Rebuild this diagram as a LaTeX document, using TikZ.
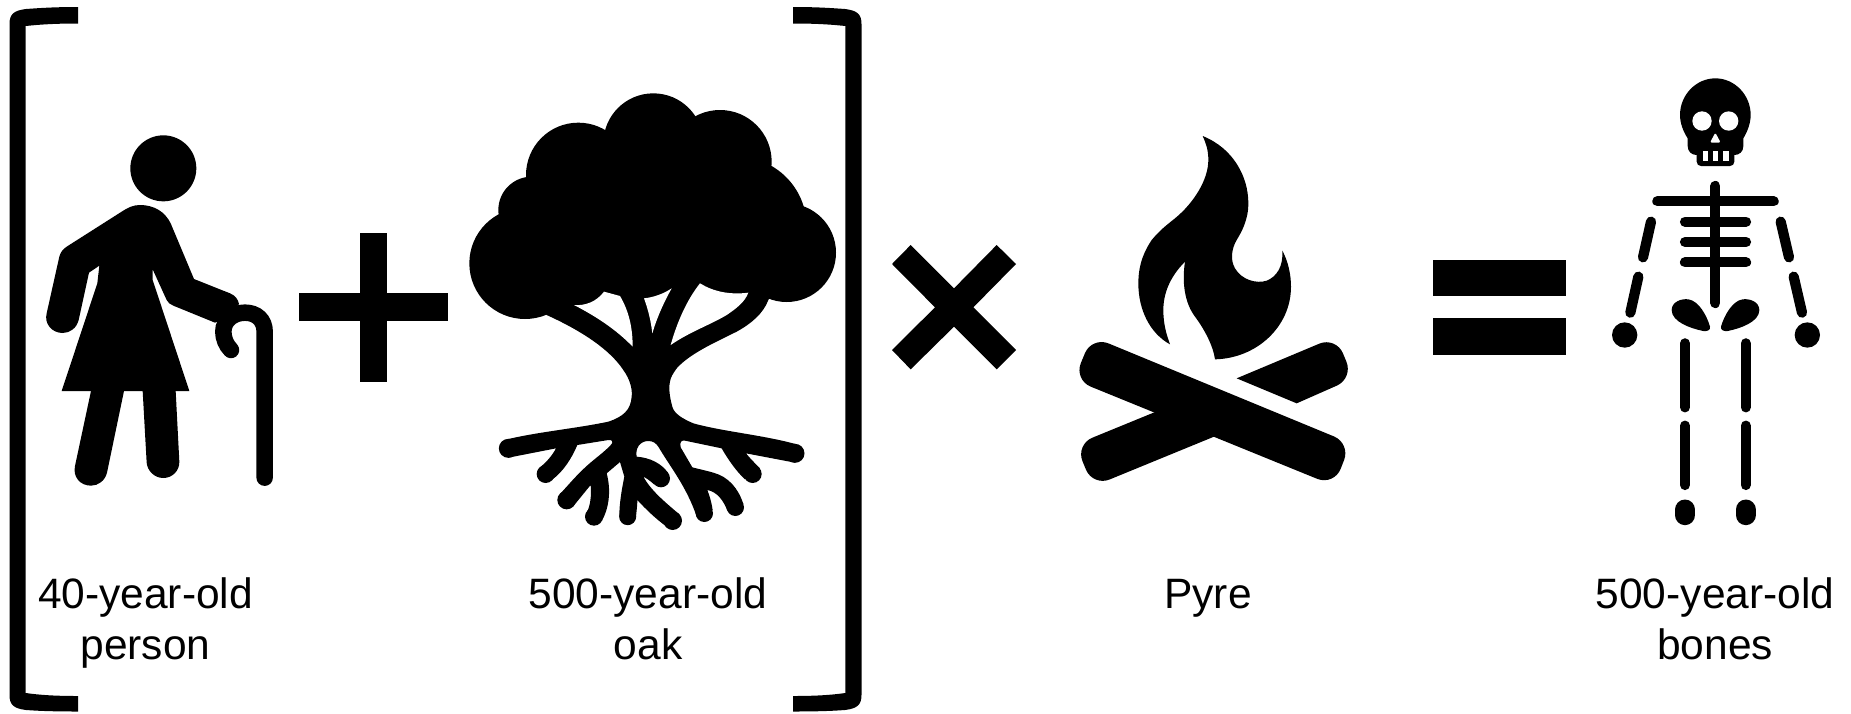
\documentclass[tikz,border=0pt]{standalone}
\usepackage{fontspec}
\setmainfont{Liberation Sans}
\tikzset{
  zm/.style 2 args={shift={(#1,#2)},x=0.33333pt,y=-0.33333pt},
  ink/.style={fill=black,draw=none},
  gap/.style={fill=white,draw=none},
  bone/.style={draw=black,line width=10.2pt,line cap=round},
  cane/.style={draw=black,line width=16.5pt,line cap=round},
  logend/.style={rounded corners=18pt},
  lbl/.style={font=\fontsize{42.5}{51}\selectfont,align=center,anchor=base,inner sep=0pt,text=black}
}
\begin{document}
\begin{tikzpicture}[x=1pt,y=-1pt]
\useasboundingbox (0,0) rectangle (1851,713);
\fill[white] (0,0) rectangle (1851,713);

% brackets
\fill[ink] (78,7) .. controls (55,7) and (40,8) .. (26,9) .. controls (14,10.5) and (9.5,14) .. (9.5,24)
  -- (9.5,695) .. controls (9.5,705) and (14,708.5) .. (26,710) .. controls (40,711) and (55,711.5) .. (78,711.5)
  -- (78,696) .. controls (55,696) and (40,695) .. (25.7,693) -- (25.7,26) .. controls (40,24.5) and (55,23.5) .. (78,23.5) -- cycle;
\fill[ink] (793,7) .. controls (816,7) and (831,8) .. (845,9) .. controls (857,10.5) and (861.5,14) .. (861.5,24)
  -- (861.5,695) .. controls (861.5,705) and (857,708.5) .. (845,710) .. controls (831,711) and (816,711.5) .. (793,711.5)
  -- (793,696) .. controls (816,696) and (831,695) .. (845.3,693) -- (845.3,26) .. controls (831,24.5) and (816,23.5) .. (793,23.5) -- cycle;

% person
\begin{scope}[zm={0}{100}]
\fill[ink] (490,205) circle[radius=99];
\fill[ink] (365,335) .. controls (385,322) and (400,315) .. (420,315) .. controls (462,315) and (495,335) .. (512,370)
  -- (582,537) -- (690,580) .. controls (705,586) and (714,597) .. (717,612) -- (685,650) -- (645,668) -- (520,617)
  .. controls (510,613) and (504,608) .. (500,600) -- (458,508) -- (458,540) -- (568,873) -- (527,873)
  -- (538,1085) .. controls (539,1112) and (517,1134) .. (490,1134) .. controls (463,1134) and (442,1112) .. (440,1088)
  -- (428,873) -- (372,873) -- (321,1118) .. controls (315,1142) and (295,1157) .. (273,1157)
  .. controls (240,1157) and (218,1130) .. (225,1098) -- (273,873) -- (185,873) -- (292,550) -- (298,497) -- (267,518)
  -- (236,660) .. controls (230,684) and (210,699) .. (188,699) .. controls (155,699) and (132,670) .. (140,640)
  -- (178,470) .. controls (181,458) and (188,448) .. (200,440) -- cycle;
\draw[cane] (693,750) .. controls (678,735) and (670,715) .. (670,695) .. controls (670,660) and (700,638) .. (735,638)
  .. controls (770,638) and (794,660) .. (794,695) -- (794,1133);
\fill[ink] (1080,398) rectangle (1162,846);
\fill[ink] (897,580) rectangle (1345,663);
\end{scope}

% tree canopy
\begin{scope}[zm={450}{70}]
\foreach \cx/\cy/\r in {225/580/167,245/420/100,385/315/157,610/220/150,810/275/155,860/470/210,1010/548/148,370/605/100}
  \fill[ink] (\cx,\cy) circle[radius=\r];
\fill[ink] (225,650) -- (290,735) .. controls (400,785) and (480,840) .. (520,900) -- (600,950) -- (680,895)
  .. controls (720,850) and (800,815) .. (860,785) .. controls (905,760) and (940,730) .. (955,690)
  -- (1010,600) -- (1010,500) -- (860,400) -- (810,275) -- (610,220) -- (385,315) -- (245,420) -- cycle;
\fill[gap] (372,705) .. controls (440,740) and (500,780) .. (548,830) .. controls (548,770) and (535,720) .. (510,678)
  -- (462,665) .. controls (440,695) and (405,708) .. (372,705) -- cycle;
\fill[gap] (582,685) .. controls (595,720) and (603,755) .. (607,790) .. controls (620,745) and (640,700) .. (665,655)
  .. controls (640,672) and (610,682) .. (582,685) -- cycle;
\fill[gap] (750,640) .. controls (710,690) and (680,760) .. (662,825) .. controls (720,785) and (780,765) .. (830,735)
  .. controls (860,715) and (885,695) .. (895,668) .. controls (840,675) and (790,665) .. (750,640) -- cycle;
\end{scope}

% tree roots
\begin{scope}[zm={480}{360}]
\fill[ink] (430,30) .. controls (448,55) and (458,85) .. (455,110) .. controls (452,150) and (430,170) .. (385,185)
  .. controls (290,205) and (180,215) .. (85,237) -- (85,293) -- (228,265)
  .. controls (215,290) and (195,310) .. (180,322) -- (215,360) .. controls (250,335) and (275,295) .. (292,255)
  -- (385,240) .. controls (395,238) and (400,245) .. (395,252) .. controls (375,275) and (345,295) .. (320,318)
  .. controls (290,345) and (265,375) .. (240,402) -- (280,438) .. controls (300,415) and (315,395) .. (332,375)
  .. controls (335,410) and (330,440) .. (320,458) -- (365,483) .. controls (385,450) and (395,395) .. (380,340)
  -- (420,306) -- (433,350) .. controls (425,390) and (418,430) .. (418,468) -- (468,470)
  .. controls (470,450) and (472,435) .. (472,420) .. controls (495,445) and (525,475) .. (560,500)
  -- (598,463) .. controls (560,430) and (515,395) .. (490,350) .. controls (500,355) and (510,362) .. (522,373)
  -- (565,340) .. controls (545,310) and (510,293) .. (470,290) .. controls (465,265) and (480,243) .. (505,243)
  .. controls (520,243) and (528,250) .. (535,260) .. controls (570,320) and (620,380) .. (650,470)
  -- (698,450) .. controls (695,430) and (690,410) .. (682,390) .. controls (710,395) and (730,420) .. (742,452)
  -- (790,432) .. controls (775,385) and (745,350) .. (700,338) .. controls (680,332) and (660,328) .. (637,322)
  -- (602,262) .. controls (598,245) and (605,240) .. (615,242) -- (725,265)
  .. controls (745,300) and (770,335) .. (795,358) -- (840,325) .. controls (825,310) and (810,295) .. (798,280)
  -- (945,308) -- (950,253) .. controls (850,225) and (730,215) .. (640,190)
  .. controls (605,175) and (582,160) .. (577,140) .. controls (570,115) and (565,85) .. (570,65)
  .. controls (572,50) and (580,40) .. (590,25) -- (510,-20) -- cycle;
\foreach \cx/\cy/\r in {85/265/28.5,197/342/27,260/420/28,342/470/27,443/470/25.5,578/482/28,543/355/27,673/460/26,766/442/26,818/342/27,945/280/28.5}
  \fill[ink] (\cx,\cy) circle[radius=\r];
\end{scope}

% times
\begin{scope}[zm={880}{230}]
\fill[ink] (92,45) -- (222,175) -- (350,45) -- (408,102) -- (280,232) -- (408,360) -- (350,418) -- (222,290)
  -- (92,418) -- (36,360) -- (165,232) -- (36,102) -- cycle;
\end{scope}

% fire
\begin{scope}[zm={1060}{120}]
\fill[ink] (428,48) .. controls (520,85) and (565,170) .. (565,250) .. controls (565,300) and (545,335) .. (530,360)
  .. controls (515,385) and (510,420) .. (525,445) .. controls (545,480) and (590,492) .. (620,482)
  .. controls (650,470) and (670,440) .. (667,392) .. controls (685,425) and (693,465) .. (693,500)
  .. controls (693,620) and (590,715) .. (465,718) .. controls (460,680) and (435,630) .. (405,590)
  .. controls (375,550) and (365,490) .. (375,425) .. controls (330,470) and (310,520) .. (310,570)
  .. controls (310,610) and (318,640) .. (330,673) .. controls (270,640) and (235,570) .. (235,490)
  .. controls (235,430) and (255,390) .. (275,360) .. controls (300,330) and (320,315) .. (345,295)
  .. controls (400,250) and (445,180) .. (445,120) .. controls (445,90) and (438,70) .. (428,48) -- cycle;
\fill[ink,logend] (95.5,649.6) -- (872,970) -- (822,1097) -- (41.8,779.4) -- cycle;
\fill[ink] (320,862) -- (283,877) [logend] -- (46.8,973.7) -- (98.6,1099) [sharp corners] -- (462,950) -- (495,936) -- cycle;
\fill[ink] (530,775) [logend] -- (828,650) -- (880,775) [sharp corners] -- (710,850) -- cycle;
\end{scope}

% equals
\begin{scope}[zm={1420}{240}]
\fill[ink] (40,61) rectangle (437,169);
\fill[ink] (40,235) rectangle (437,345);
\end{scope}

% skeleton
\begin{scope}[zm={1590}{60}]
\fill[ink] (293,235) .. controls (280,215) and (270,190) .. (270,165) .. controls (270,105) and (318,55) .. (376,55)
  .. controls (434,55) and (482,105) .. (482,165) .. controls (482,190) and (472,215) .. (460,235)
  -- (460,258) .. controls (460,275) and (448,285) .. (433,285) -- (433,305) .. controls (433,313) and (427,318) .. (420,318)
  -- (333,318) .. controls (326,318) and (320,313) .. (320,305) -- (320,285) .. controls (305,285) and (293,275) .. (293,258) -- cycle;
\fill[gap] (336,183) circle[radius=29];
\fill[gap] (416,183) circle[radius=29];
\fill[gap,rounded corners=1.5pt] (376,218) -- (392,248) -- (360,248) -- cycle;
\foreach \tx in {338,369,400} \fill[gap] (\tx,272) rectangle ++(16,31);
\draw[bone] (376,378) -- (376,729);
\draw[bone] (202,424) -- (551,424);
\foreach \ry in {485,546,607} \draw[bone] (285,\ry) -- (468,\ry);
\draw[bone] (183,485) -- (159,592);
\draw[bone] (145,650) -- (121,758);
\draw[bone] (572,485) -- (597,592);
\draw[bone] (611,650) -- (636,758);
\fill[ink] (104,825) circle[radius=38];
\fill[ink] (652,825) circle[radius=38];
\fill[ink] (245,750) .. controls (245,725) and (275,715) .. (295,718) .. controls (325,722) and (350,765) .. (360,800)
  .. controls (362,812) and (350,814) .. (340,813) .. controls (300,805) and (245,785) .. (245,750) -- cycle;
\fill[ink] (508,750) .. controls (508,725) and (478,715) .. (458,718) .. controls (428,722) and (403,765) .. (393,800)
  .. controls (391,812) and (403,814) .. (413,813) .. controls (453,805) and (508,785) .. (508,750) -- cycle;
\end{scope}
\begin{scope}[zm={1590}{290}]
\foreach \lx in {285,467} {
  \draw[bone] (\lx,160) -- (\lx,352);
  \draw[bone] (\lx,407) -- (\lx,585);
  \draw[black,line width=20.3pt,line cap=round] (\lx,659) -- (\lx,675);
}
\end{scope}

% labels
\node[lbl] (lperson) at (145.5,659) {40-year-old\\person};
\node[lbl] (loak) at (648,659) {500-year-old\\oak};
\node[lbl] (lpyre) at (1208,608) {Pyre};
\node[lbl] (lbones) at (1715,659) {500-year-old\\bones};
\end{tikzpicture}
\end{document}
